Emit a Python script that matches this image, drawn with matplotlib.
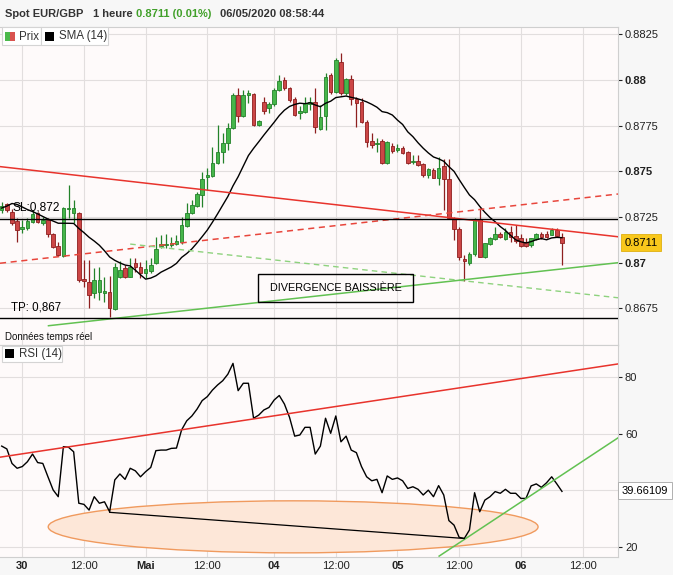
import numpy as np
import pandas as pd
import matplotlib
matplotlib.use('Agg')
import matplotlib.pyplot as plt
from matplotlib.patches import Rectangle, Ellipse

plt.rcParams['font.family'] = ['Liberation Sans', 'DejaVu Sans']

# hourly candles, 29/04 20:00 -> 06/05 08:00 (weekend skipped)
opens = [0.87288, 0.87320, 0.87279, 0.87230, 0.87186, 0.87188, 0.87224, 0.87270, 0.87219, 0.87234,
         0.87155, 0.87091, 0.87038, 0.87292, 0.87270, 0.87270, 0.86912, 0.86896, 0.86834, 0.86840,
         0.86836, 0.86840, 0.86745, 0.86923, 0.86969, 0.86923, 0.86997, 0.86975, 0.86942, 0.86956,
         0.87000, 0.87091, 0.87095, 0.87097, 0.87102, 0.87115, 0.87201, 0.87274, 0.87310, 0.87370,
         0.87468, 0.87475, 0.87544, 0.87608, 0.87654, 0.87736, 0.87918, 0.87803, 0.87918, 0.87922,
         0.87754, 0.87881, 0.87845, 0.87867, 0.87945, 0.88000, 0.87955, 0.87894, 0.87821, 0.87827,
         0.87869, 0.87881, 0.87730, 0.87803, 0.88027, 0.87936, 0.88100, 0.87927, 0.88004, 0.87894,
         0.87881, 0.87772, 0.87666, 0.87650, 0.87668, 0.87544, 0.87639, 0.87617, 0.87626, 0.87606,
         0.87551, 0.87558, 0.87540, 0.87480, 0.87510, 0.87462, 0.87529, 0.87458, 0.87242, 0.87184,
         0.87020, 0.86996, 0.87045, 0.87239, 0.87031, 0.87102, 0.87130, 0.87157, 0.87132, 0.87168,
         0.87146, 0.87134, 0.87113, 0.87097, 0.87132, 0.87157, 0.87157, 0.87154, 0.87179, 0.87143]
highs = [0.87334, 0.87328, 0.87292, 0.87243, 0.87234, 0.87243, 0.87288, 0.87279, 0.87252, 0.87243,
         0.87161, 0.87115, 0.87307, 0.87425, 0.87343, 0.87279, 0.87015, 0.87015, 0.86969, 0.86978,
         0.86923, 0.86927, 0.86997, 0.87011, 0.86987, 0.87024, 0.87026, 0.87005, 0.87015, 0.87024,
         0.87139, 0.87152, 0.87157, 0.87142, 0.87153, 0.87252, 0.87325, 0.87343, 0.87389, 0.87498,
         0.87517, 0.87635, 0.87754, 0.87708, 0.87763, 0.87927, 0.87955, 0.87945, 0.87945, 0.87931,
         0.87781, 0.87909, 0.87881, 0.87955, 0.88027, 0.88018, 0.87963, 0.87909, 0.87858, 0.87905,
         0.87905, 0.87955, 0.87863, 0.88037, 0.88040, 0.88119, 0.88146, 0.88009, 0.88027, 0.87905,
         0.87900, 0.87781, 0.87708, 0.87681, 0.87676, 0.87666, 0.87654, 0.87650, 0.87639, 0.87613,
         0.87590, 0.87590, 0.87547, 0.87520, 0.87517, 0.87577, 0.87566, 0.87566, 0.87250, 0.87195,
         0.87042, 0.87059, 0.87245, 0.87298, 0.87108, 0.87139, 0.87195, 0.87168, 0.87188, 0.87201,
         0.87206, 0.87157, 0.87135, 0.87135, 0.87163, 0.87168, 0.87171, 0.87190, 0.87190, 0.87161]
lows = [0.87270, 0.87279, 0.87206, 0.87115, 0.87161, 0.87179, 0.87216, 0.87216, 0.87206, 0.87142,
        0.87079, 0.87037, 0.87033, 0.87245, 0.87216, 0.86896, 0.86869, 0.86750, 0.86805, 0.86796,
        0.86787, 0.86704, 0.86741, 0.86915, 0.86915, 0.86920, 0.86951, 0.86916, 0.86915, 0.86942,
        0.86993, 0.87079, 0.87079, 0.87088, 0.87095, 0.87102, 0.87197, 0.87267, 0.87307, 0.87307,
        0.87398, 0.87471, 0.87540, 0.87544, 0.87617, 0.87730, 0.87772, 0.87799, 0.87873, 0.87748,
        0.87748, 0.87814, 0.87821, 0.87858, 0.87942, 0.87945, 0.87881, 0.87803, 0.87788, 0.87821,
        0.87836, 0.87712, 0.87726, 0.87726, 0.87923, 0.87931, 0.87918, 0.87918, 0.87863, 0.87741,
        0.87763, 0.87632, 0.87626, 0.87608, 0.87540, 0.87540, 0.87602, 0.87608, 0.87595, 0.87540,
        0.87540, 0.87529, 0.87471, 0.87462, 0.87462, 0.87425, 0.87288, 0.87238, 0.87124, 0.87015,
        0.86901, 0.86987, 0.87037, 0.87031, 0.87023, 0.87097, 0.87124, 0.87135, 0.87124, 0.87115,
        0.87108, 0.87086, 0.87086, 0.87086, 0.87124, 0.87132, 0.87135, 0.87149, 0.87141, 0.86990]
closes = [0.87310, 0.87288, 0.87219, 0.87179, 0.87194, 0.87230, 0.87265, 0.87224, 0.87234, 0.87155,
          0.87084, 0.87042, 0.87298, 0.87299, 0.87298, 0.86905, 0.86898, 0.86823, 0.86905, 0.86905,
          0.86843, 0.86750, 0.86975, 0.86960, 0.86920, 0.86975, 0.86975, 0.86942, 0.86964, 0.86987,
          0.87073, 0.87102, 0.87102, 0.87106, 0.87117, 0.87206, 0.87274, 0.87316, 0.87376, 0.87457,
          0.87480, 0.87544, 0.87604, 0.87654, 0.87736, 0.87918, 0.87803, 0.87918, 0.87927, 0.87754,
          0.87776, 0.87832, 0.87869, 0.87945, 0.87996, 0.87955, 0.87891, 0.87809, 0.87832, 0.87876,
          0.87881, 0.87741, 0.87796, 0.88018, 0.87936, 0.88110, 0.87927, 0.88004, 0.87894, 0.87876,
          0.87772, 0.87662, 0.87644, 0.87655, 0.87544, 0.87662, 0.87613, 0.87628, 0.87602, 0.87544,
          0.87558, 0.87535, 0.87480, 0.87513, 0.87464, 0.87518, 0.87457, 0.87243, 0.87184, 0.87031,
          0.87012, 0.87048, 0.87239, 0.87033, 0.87106, 0.87134, 0.87157, 0.87141, 0.87168, 0.87138,
          0.87120, 0.87091, 0.87094, 0.87135, 0.87157, 0.87138, 0.87143, 0.87179, 0.87146, 0.87110]

# SMA(14) for the first candles, whose window starts before the chart
sma_head = [0.87299, 0.87310, 0.87324, 0.87319, 0.87305, 0.87291, 0.87280,
            0.87267, 0.87253, 0.87239, 0.87228, 0.87216, 0.87216]

rsi = [55.6, 54.6, 49.5, 47.8, 48.4, 50.1, 52.8, 49.8, 49.5, 44.8,
       40.2, 37.8, 55.4, 55.2, 53.6, 35.5, 35.1, 33.1, 37.8, 35.5,
       36.0, 32.5, 43.7, 45.8, 43.9, 47.8, 46.9, 44.8, 46.6, 48.1,
       54.0, 54.2, 54.2, 54.8, 54.9, 61.3, 64.5, 66.2, 68.6, 71.6,
       73.0, 75.3, 77.1, 78.6, 80.9, 84.7, 75.1, 77.7, 77.7, 65.4,
       66.5, 68.3, 69.2, 71.8, 73.4, 70.4, 65.7, 59.1, 59.5, 62.2,
       62.2, 52.8, 55.6, 65.4, 60.1, 66.2, 57.1, 59.1, 54.2, 53.3,
       48.4, 44.8, 43.4, 43.9, 39.2, 45.1, 43.9, 44.4, 43.4, 40.7,
       41.3, 40.4, 38.4, 40.1, 37.8, 41.7, 38.4, 29.4, 27.8, 23.5,
       23.1, 26.1, 39.2, 32.5, 36.6, 37.8, 39.6, 39.0, 40.4, 39.0,
       39.0, 37.2, 37.2, 41.6, 42.3, 41.1, 42.7, 44.8, 42.3, 39.66109]

tick_pos = [4, 16, 28, 40, 53, 65, 77, 89, 101, 113]
tick_labels = ['30', '12:00', 'Mai', '12:00', '04', '12:00', '05', '12:00', '06', '12:00']

price_ticks = [0.8675, 0.87, 0.8725, 0.875, 0.8775, 0.88, 0.8825]
price_labels = ['0.8675', '0.87', '0.8725', '0.875', '0.8775', '0.88', '0.8825']
rsi_ticks = [20, 40, 60, 80]

# drawn annotations (candle index, value)
trend_red = ([-0.33, 119.9], [0.87526, 0.87142])
trend_red_dash = ([-0.33, 119.9], [0.86997, 0.87376])
trend_green_dash = ([25, 119.9], [0.87102, 0.86808])
trend_green = ([9.1, 119.9], [0.86655, 0.87000])
sl_level = 0.87239
tp_level = 0.8670
div_box = (49.9, 0.86787, 30.2, 0.0015)
rsi_red = ([-0.33, 119.9], [51.7, 84.5])
rsi_green = ([85.1, 119.9], [16.9, 58.5])
rsi_div = ([21, 90], [32.3, 23.1])
rsi_ellipse = (56.7, 27.2, 95.3, 18.3)

W, H = 673, 575
def fx(x):
    return x / W
def fy(y):
    return 1 - y / H

n = len(closes)
idx = np.arange(n)
o = np.array(opens)
c = np.array(closes)
sma = pd.Series(closes).rolling(14).mean().to_numpy()
sma[:13] = sma_head

fig = plt.figure(figsize=(6.73, 5.75), dpi=100)
fig.patch.set_facecolor('#f7f7f7')
ax = fig.add_axes([0, fy(345), fx(618), (345 - 27) / H])
rax = fig.add_axes([0, fy(557), fx(618), (557 - 345) / H], sharex=ax)

bg = '#fefafa'
grid_c = '#e2dede'
for a in (ax, rax):
    a.set_facecolor(bg)
    a.set_xticks(tick_pos)
    a.grid(True, color=grid_c, lw=0.8, zorder=0)
    a.set_axisbelow(True)
    a.yaxis.tick_right()
    a.tick_params(axis='y', direction='out', length=3, width=0.8, pad=2,
                  labelsize=8, colors='#222222')
    a.tick_params(axis='x', length=0)
    for s in ['left']:
        a.spines[s].set_visible(False)
    for s in ['right', 'top', 'bottom']:
        a.spines[s].set_color('#cfcfcf')

ax.set_xlim(-0.33, 119.9)
ax.set_ylim(0.865495, 0.882902)
ax.set_yticks(price_ticks)
ax.set_yticklabels(price_labels)
for lab, t in zip(ax.get_yticklabels(), price_ticks):
    if round(t * 1000) % 5 == 0:
        lab.set_fontweight('bold')
plt.setp(ax.get_xticklabels(), visible=False)

# candles
up = c >= o
body_col = np.where(up, '#46b64a', '#cc4646')
edge_col = np.where(up, '#23822a', '#8e1f1f')
ax.vlines(idx, lows, highs, colors=edge_col, lw=0.9, zorder=3)
ax.bar(idx, np.abs(c - o), bottom=np.minimum(o, c), width=0.7,
       color=body_col, edgecolor=edge_col, linewidth=0.6, zorder=4)
ax.plot(idx, sma, color='black', lw=1.0, zorder=5)

ax.plot(*trend_red, color='#e8332c', lw=1.1, zorder=6)
ax.plot(*trend_red_dash, color='#e8463c', lw=1.1, ls=(0, (4, 3)), zorder=6)
ax.plot(*trend_green_dash, color='#8ed27e', lw=1.0, ls=(0, (4, 3)), zorder=6)
ax.plot(*trend_green, color='#62c152', lw=1.1, zorder=6)
ax.axhline(sl_level, color='black', lw=1.0, zorder=6)
ax.axhline(tp_level, color='black', lw=1.0, zorder=6)
ax.text(2.1, 0.87302, 'SL:0,872', fontsize=8.6, va='center', ha='left', zorder=7)
ax.text(1.8, 0.86755, 'TP: 0,867', fontsize=8.3, va='center', ha='left', zorder=7)
bx, by, bw, bh = div_box
ax.add_patch(Rectangle((bx, by), bw, bh, fill=False, edgecolor='black', lw=1.0, zorder=7))
ax.text(bx + bw / 2, by + bh / 2, 'DIVERGENCE BAISSIÈRE', fontsize=7.8,
        ha='center', va='center', zorder=7)

# RSI panel
rax.set_ylim(16.59, 91.16)
rax.set_yticks(rsi_ticks)
rax.set_yticklabels(['20', '', '60', '80'])
rax.set_xticklabels(tick_labels)
rax.tick_params(axis='x', labelsize=8, colors='#222222', pad=3)
for lab, t in zip(rax.get_xticklabels(), tick_labels):
    if t != '12:00':
        lab.set_fontweight('bold')
ex, ey, ew, eh = rsi_ellipse
rax.add_patch(Ellipse((ex, ey), ew, eh, facecolor='#fde7d8', edgecolor='#f09a5e',
                      lw=1.0, zorder=2))
rax.plot(idx, rsi, color='black', lw=1.0, zorder=4)
rax.plot(*rsi_red, color='#e8332c', lw=1.1, zorder=5)
rax.plot(*rsi_green, color='#62c152', lw=1.1, zorder=5)
rax.plot(*rsi_div, color='black', lw=0.9, zorder=5)

# header
hy = fy(14)
fig.text(fx(5), hy, 'Spot EUR/GBP', fontsize=8, weight='bold', color='#333333', va='center')
fig.text(fx(92.5), hy, '1 heure', fontsize=8, weight='bold', color='#333333', va='center')
fig.text(fx(136), hy, '0.8711 (0.01%)', fontsize=8, weight='bold', color='#41a02a', va='center')
fig.text(fx(220.5), hy, '06/05/2020 08:58:44', fontsize=8, weight='bold', color='#333333', va='center')

# legend boxes
def box(x0, y0, x1, y1):
    fig.add_artist(Rectangle((fx(x0), fy(y1)), fx(x1 - x0), (y1 - y0) / H,
                             transform=fig.transFigure, facecolor='#ffffff',
                             edgecolor='#d4d4d4', lw=0.8, zorder=10))

def square(x0, y0, size, color):
    fig.add_artist(Rectangle((fx(x0), fy(y0 + size)), fx(size), size / H,
                             transform=fig.transFigure, facecolor=color,
                             edgecolor='none', zorder=11))

box(1.5, 27.5, 40.5, 44.5)
box(40.5, 27.5, 108, 44.5)
square(5, 32, 5, '#4cb94c')
fig.add_artist(Rectangle((fx(10), fy(41)), fx(5), 9 / H, transform=fig.transFigure,
                         facecolor='#d9534f', edgecolor='none', zorder=11))
fig.add_artist(Rectangle((fx(5), fy(41)), fx(5), 9 / H, transform=fig.transFigure,
                         facecolor='#4cb94c', edgecolor='none', zorder=11))
fig.text(fx(19), fy(36.5), 'Prix', fontsize=8.3, color='#333333', va='center', zorder=12)
square(45, 32, 9, 'black')
fig.text(fx(59), fy(36.5), 'SMA (14)', fontsize=8.3, color='#333333', va='center', zorder=12)

fig.text(fx(5), fy(337.5), 'Données temps réel', fontsize=7, color='#111111', va='center')
box(1.5, 345.5, 62, 362)
square(5, 349, 9, 'black')
fig.text(fx(19), fy(354), 'RSI (14)', fontsize=8.3, color='#333333', va='center', zorder=12)

# value labels on the right axis
fig.text(fx(641), fy(242.5), '0.8711', fontsize=8, ha='center', va='center', zorder=12,
         bbox=dict(boxstyle='square,pad=0.35', facecolor='#f8c81c', edgecolor='#e0b010', lw=0.6))
fig.text(fx(645), fy(490.5), '39.66109', fontsize=8, ha='center', va='center', zorder=12,
         bbox=dict(boxstyle='square,pad=0.35', facecolor='#ffffff', edgecolor='#b0b0b0', lw=0.7))

fig.savefig('out.png', dpi=100, facecolor=fig.get_facecolor())
